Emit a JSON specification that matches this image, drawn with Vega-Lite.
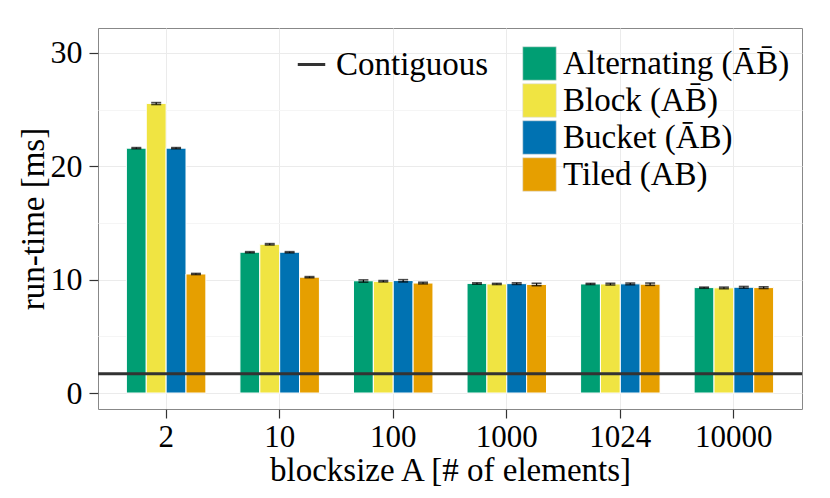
{
  "$schema": "https://vega.github.io/schema/vega-lite/v6.json",
  "width": 704,
  "height": 381,
  "autosize": {"type": "none"},
  "padding": {"left": 98, "top": 28, "right": 28, "bottom": 89},
  "background": "white",
  "config": {
    "font": "Liberation Serif",
    "view": {"stroke": "#888888", "strokeWidth": 1},
    "axis": {
      "labelFont": "Liberation Serif",
      "titleFont": "Liberation Serif",
      "labelColor": "black",
      "titleColor": "black",
      "titleFontWeight": "normal",
      "domain": false,
      "tickColor": "#333333",
      "tickSize": 9,
      "tickWidth": 1.2
    },
    "legend": {
      "labelFont": "Liberation Serif",
      "labelColor": "black",
      "padding": 0,
      "rowPadding": 0
    }
  },
  "datasets": {
    "runs": [
      {"bs": "2", "method": "Alternating (ĀB̄)", "time": 21.6, "lo": 21.55, "hi": 21.65},
      {"bs": "2", "method": "Block (AB̄)", "time": 25.55, "lo": 25.45, "hi": 25.62},
      {"bs": "2", "method": "Bucket (ĀB)", "time": 21.6, "lo": 21.55, "hi": 21.65},
      {"bs": "2", "method": "Tiled (AB)", "time": 10.5, "lo": 10.45, "hi": 10.55},
      {"bs": "10", "method": "Alternating (ĀB̄)", "time": 12.42, "lo": 12.37, "hi": 12.47},
      {"bs": "10", "method": "Block (AB̄)", "time": 13.12, "lo": 13.06, "hi": 13.18},
      {"bs": "10", "method": "Bucket (ĀB)", "time": 12.42, "lo": 12.37, "hi": 12.47},
      {"bs": "10", "method": "Tiled (AB)", "time": 10.22, "lo": 10.17, "hi": 10.27},
      {"bs": "100", "method": "Alternating (ĀB̄)", "time": 9.9, "lo": 9.78, "hi": 9.98},
      {"bs": "100", "method": "Block (AB̄)", "time": 9.85, "lo": 9.8, "hi": 9.92},
      {"bs": "100", "method": "Bucket (ĀB)", "time": 9.92, "lo": 9.8, "hi": 10.0},
      {"bs": "100", "method": "Tiled (AB)", "time": 9.7, "lo": 9.63, "hi": 9.77},
      {"bs": "1000", "method": "Alternating (ĀB̄)", "time": 9.67, "lo": 9.6, "hi": 9.72},
      {"bs": "1000", "method": "Block (AB̄)", "time": 9.62, "lo": 9.57, "hi": 9.67},
      {"bs": "1000", "method": "Bucket (ĀB)", "time": 9.65, "lo": 9.58, "hi": 9.72},
      {"bs": "1000", "method": "Tiled (AB)", "time": 9.58, "lo": 9.47, "hi": 9.68},
      {"bs": "1024", "method": "Alternating (ĀB̄)", "time": 9.62, "lo": 9.57, "hi": 9.67},
      {"bs": "1024", "method": "Block (AB̄)", "time": 9.62, "lo": 9.53, "hi": 9.68},
      {"bs": "1024", "method": "Bucket (ĀB)", "time": 9.63, "lo": 9.55, "hi": 9.7},
      {"bs": "1024", "method": "Tiled (AB)", "time": 9.6, "lo": 9.5, "hi": 9.7},
      {"bs": "10000", "method": "Alternating (ĀB̄)", "time": 9.3, "lo": 9.24, "hi": 9.34},
      {"bs": "10000", "method": "Block (AB̄)", "time": 9.28, "lo": 9.2, "hi": 9.34},
      {"bs": "10000", "method": "Bucket (ĀB)", "time": 9.33, "lo": 9.25, "hi": 9.4},
      {"bs": "10000", "method": "Tiled (AB)", "time": 9.3, "lo": 9.22, "hi": 9.37}
    ],
    "contig": [
      {"series": "Contiguous", "time": 1.7}
    ]
  },
  "layer": [
    {
      "data": {"name": "runs"},
      "mark": {"type": "bar", "stroke": "white", "strokeWidth": 1},
      "encoding": {
        "x": {
          "field": "bs", "type": "ordinal",
          "sort": ["2", "10", "100", "1000", "1024", "10000"],
          "scale": {"paddingInner": 0.3, "paddingOuter": 0.25},
          "axis": {
            "title": "blocksize A [# of elements]",
            "labelAngle": 0,
            "labelFontSize": 31,
            "titleFontSize": 33,
            "labelPadding": 4,
            "titlePadding": 2,
            "grid": true,
            "gridColor": "#ebebeb",
            "gridWidth": 1,
            "bandPosition": 0.5
          }
        },
        "xOffset": {
          "field": "method", "type": "nominal",
          "sort": ["Alternating (ĀB̄)", "Block (AB̄)", "Bucket (ĀB)", "Tiled (AB)"]
        },
        "y": {
          "field": "time", "type": "quantitative",
          "scale": {"domain": [-1.41, 32.2], "nice": false, "zero": false},
          "axis": {
            "title": "run-time [ms]",
            "values": [0, 5, 10, 15, 20, 25, 30],
            "labelExpr": "datum.value % 10 === 0 ? datum.label : ''",
            "tickOpacity": {"condition": {"test": "datum.value % 10 === 0", "value": 1}, "value": 0},
            "gridColor": {"condition": {"test": "datum.value % 10 === 0", "value": "#ebebeb"}, "value": "#f5f5f5"},
            "labelFontSize": 32,
            "titleFontSize": 33,
            "labelPadding": 7,
            "titlePadding": 0,
            "grid": true
          }
        },
        "fill": {
          "field": "method", "type": "nominal",
          "sort": ["Alternating (ĀB̄)", "Block (AB̄)", "Bucket (ĀB)", "Tiled (AB)"],
          "scale": {
            "domain": ["Alternating (ĀB̄)", "Block (AB̄)", "Bucket (ĀB)", "Tiled (AB)"],
            "range": ["#009E73", "#F0E442", "#0072B2", "#E69F00"]
          },
          "legend": {
            "title": null,
            "orient": "none",
            "legendX": 424,
            "legendY": 18,
            "symbolType": "square",
            "symbolSize": 1122,
            "symbolStrokeColor": "#dddddd",
            "symbolStrokeWidth": 0.6,
            "symbolOpacity": 1,
            "labelFontSize": 33,
            "labelOffset": 6,
            "labelLimit": 400
          }
        }
      }
    },
    {
      "data": {"name": "runs"},
      "mark": {"type": "rule", "color": "black", "strokeWidth": 1.2},
      "encoding": {
        "x": {"field": "bs", "type": "ordinal", "sort": ["2", "10", "100", "1000", "1024", "10000"]},
        "xOffset": {"field": "method", "type": "nominal", "sort": ["Alternating (ĀB̄)", "Block (AB̄)", "Bucket (ĀB)", "Tiled (AB)"]},
        "y": {"field": "lo", "type": "quantitative"},
        "y2": {"field": "hi"}
      }
    },
    {
      "data": {"name": "runs"},
      "mark": {"type": "tick", "color": "black", "size": 10, "thickness": 1.6, "orient": "horizontal"},
      "encoding": {
        "x": {"field": "bs", "type": "ordinal", "sort": ["2", "10", "100", "1000", "1024", "10000"]},
        "xOffset": {"field": "method", "type": "nominal", "sort": ["Alternating (ĀB̄)", "Block (AB̄)", "Bucket (ĀB)", "Tiled (AB)"]},
        "y": {"field": "lo", "type": "quantitative"}
      }
    },
    {
      "data": {"name": "runs"},
      "mark": {"type": "tick", "color": "black", "size": 10, "thickness": 1.6, "orient": "horizontal"},
      "encoding": {
        "x": {"field": "bs", "type": "ordinal", "sort": ["2", "10", "100", "1000", "1024", "10000"]},
        "xOffset": {"field": "method", "type": "nominal", "sort": ["Alternating (ĀB̄)", "Block (AB̄)", "Bucket (ĀB)", "Tiled (AB)"]},
        "y": {"field": "hi", "type": "quantitative"}
      }
    },
    {
      "data": {"name": "contig"},
      "mark": {"type": "rule", "strokeWidth": 3},
      "encoding": {
        "y": {"field": "time", "type": "quantitative"},
        "stroke": {
          "field": "series", "type": "nominal",
          "scale": {"domain": ["Contiguous"], "range": ["#333333"]},
          "legend": {
            "title": null,
            "orient": "none",
            "legendX": 195,
            "legendY": 18,
            "symbolType": "M-0.82,0H0.82",
            "symbolSize": 1122,
            "symbolStrokeWidth": 3,
            "labelFontSize": 33,
            "labelOffset": 6,
            "labelLimit": 300
          }
        }
      }
    }
  ]
}
